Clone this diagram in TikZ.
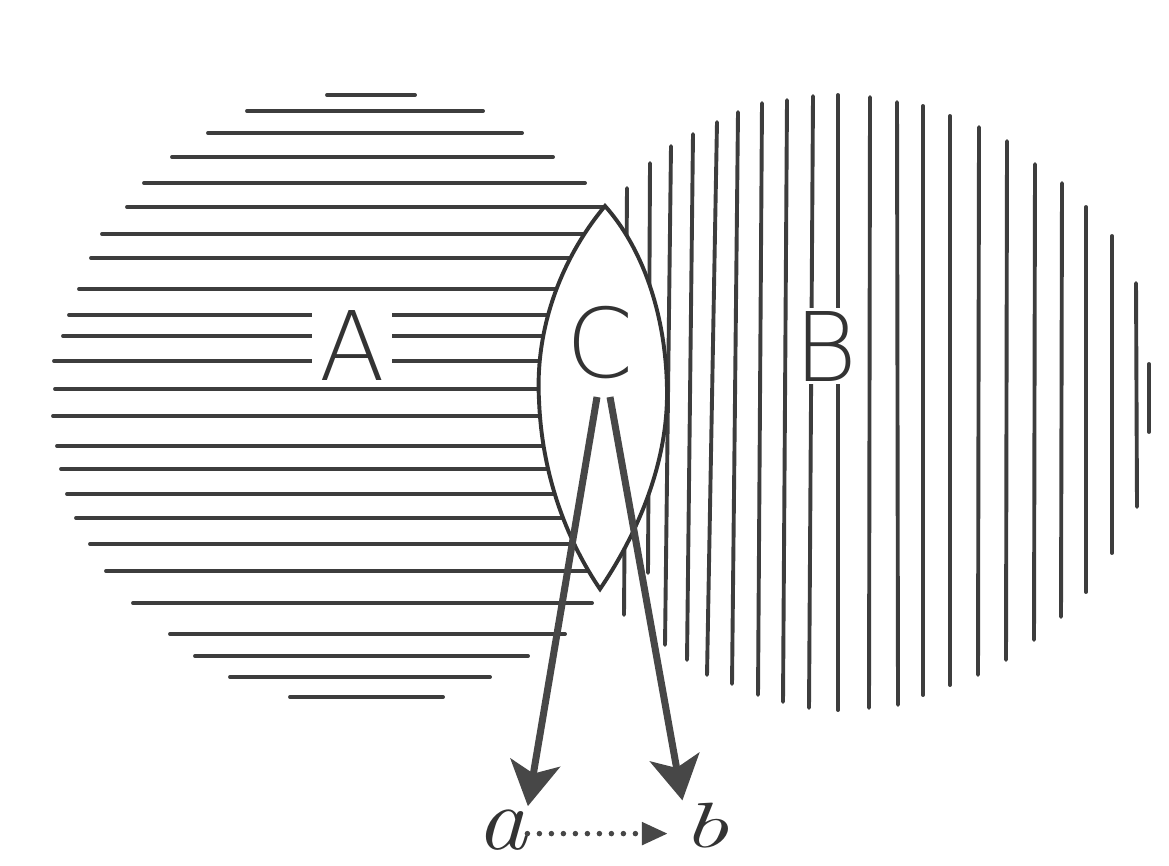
\documentclass[tikz,border=0pt]{standalone}
\usepackage{fontspec}
\newfontfamily\handfont{DejaVu Sans ExtraLight}
\usetikzlibrary{arrows.meta}
\tikzset{
  hatch/.style={line width=3.9pt, draw=black!76, line cap=round},
  lensline/.style={line width=3.9pt, draw=black!80, fill=white, line join=miter},
  setname/.style={font=\handfont\fontsize{96}{96}\selectfont, text=black!80, inner sep=0pt, anchor=base},
  elemname/.style={text=black!80, inner sep=0pt, anchor=base},
  bigarrow/.style={line width=7pt, draw=black!72, -{Stealth[length=44pt, width=50pt, inset=11pt]}},
  dotarrow/.style={line width=5.5pt, draw=black!72, line cap=round, dash pattern=on 0pt off 12pt, -{Triangle[length=26pt, width=22pt]}},
}
\begin{document}
\begin{tikzpicture}[x=1pt, y=-1pt]
  \useasboundingbox[fill=white] (0,0) rectangle (1169,866);
  % set A: horizontal hatching
  \foreach \y/\xl/\xr in {95/327/415, 111/247/483, 133/208/522, 157/172/553, 183/144/585,
      207/127/603, 234/102/600, 258/91/600, 289/79/600, 315/69/600, 336/63/600, 361/54/600,
      389/55/600, 416/53/600, 446/57/600, 469/61/600, 494/67/600, 518/76/600, 544/90/600,
      571/106/600, 603/133/592, 634/170/565, 656/195/528, 677/230/490, 697/290/443}
    \draw[hatch] (\xl,\y) -- (\xr,\y);
  % set B: vertical hatching
  \foreach \xt/\yt/\xb/\yb in {627/188/624/615, 650/163/648/573, 671/146/665/645, 693/134/687/660,
      717/122/707/675, 738/112/732/684, 762/103/758/695, 787/100/783/702, 813/96/809/708,
      838/95/838/710, 870/97/869/708, 897/102/898/705, 923/106/923/695, 950/116/950/685,
      979/127/978/675, 1007/141/1006/660, 1035/164/1034/640, 1062/183/1061/617,
      1086/207/1086/592, 1112/236/1112/553, 1136/283/1137/507, 1149/364/1149/432}
    \draw[hatch] (\xt,\yt) -- (\xb,\yb);
  % overlap C
  \filldraw[lensline] (605,206) .. controls (560,260) and (535,330) .. (539,400)
    .. controls (542,480) and (570,545) .. (600,589)
    .. controls (640,530) and (668,460) .. (667,390)
    .. controls (666,310) and (640,245) .. (605,206) -- cycle;
  \node[setname, fill=white, inner xsep=7pt, inner ysep=2pt] (setA) at (352,380) {A};
  \node[setname, fill=white, inner xsep=6pt, inner ysep=3pt] (setB) at (826,381) {B};
  \node[setname] (setC) at (600,377) {C};
  \node[elemname, font=\itshape\fontsize{90}{90}\selectfont] (lbla) at (502,849) {\scalebox{1.12}[1]{a}};
  \node[elemname, font=\itshape\fontsize{64}{64}\selectfont] (lblb) at (706,847) {\scalebox{1.6}[1]{b}};
  \coordinate (cl) at (597,397);
  \coordinate (cr) at (610,397);
  \draw[bigarrow, shorten >=3pt] (cl) -- (lbla.north east);
  \draw[bigarrow, shorten >=2pt] (cr) -- (lblb.north west);
  \draw[dotarrow, shorten >=15pt] ([yshift=-4pt]lbla.east) -- ([yshift=-4pt]lbla.east -| lblb.west);
\end{tikzpicture}
\end{document}
